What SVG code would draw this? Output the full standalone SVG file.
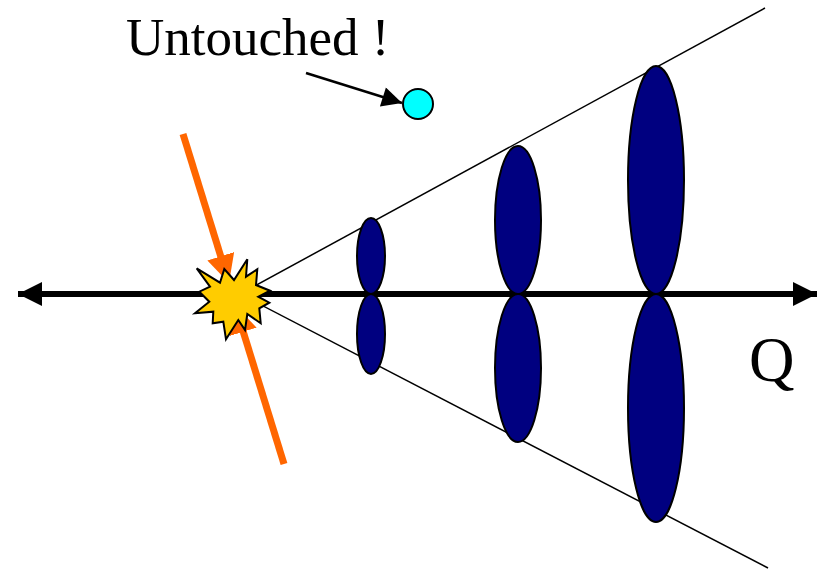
<svg xmlns="http://www.w3.org/2000/svg" width="823" height="571" viewBox="0 0 823 571">
<style>
.lobe{fill:#000080;stroke:#000;stroke-width:2}
.cone{stroke:#000;stroke-width:1.5;fill:none}
.txt{font-family:"Liberation Serif","Times New Roman",serif;fill:#000}
</style>
<defs>
<marker id="ah" viewBox="0 0 10 10" refX="10" refY="5" markerWidth="4" markerHeight="4" orient="auto" markerUnits="strokeWidth">
<path d="M0,0 L10,5 L0,10 z" fill="#000"/>
</marker>
<marker id="ahs" viewBox="0 0 10 10" refX="10" refY="5" markerWidth="10" markerHeight="8" orient="auto" markerUnits="strokeWidth">
<path d="M0,0 L10,5 L0,10 z" fill="#000"/>
</marker>
<marker id="aho" viewBox="0 0 10 10" refX="10" refY="5" markerWidth="4" markerHeight="4" orient="auto" markerUnits="strokeWidth">
<path d="M0,0 L10,5 L0,10 z" fill="#FF6600"/>
</marker>
</defs>
<g id="connectors">
<line class="cone" x1="240" y1="294" x2="765" y2="8"/>
<line class="cone" x1="240" y1="294" x2="768" y2="568"/>
<line x1="300" y1="294" x2="817" y2="294" stroke="#000" stroke-width="6" marker-end="url(#ah)"/>
<line x1="300" y1="294" x2="18" y2="294" stroke="#000" stroke-width="6" marker-end="url(#ah)"/>
<line x1="306" y1="73" x2="402" y2="103" stroke="#000" stroke-width="2.5" marker-end="url(#ahs)"/>
<line x1="183" y1="134" x2="229" y2="283" stroke="#FF6600" stroke-width="7" marker-end="url(#aho)"/>
<line x1="284" y1="464" x2="235" y2="305" stroke="#FF6600" stroke-width="7" marker-end="url(#aho)"/>
</g>
<g id="lobe-small">
<ellipse class="lobe" cx="371" cy="256" rx="14" ry="38"/>
<ellipse class="lobe" cx="371" cy="334" rx="14" ry="40"/>
</g>
<g id="lobe-medium">
<ellipse class="lobe" cx="518" cy="220" rx="23" ry="74"/>
<ellipse class="lobe" cx="518" cy="368" rx="23" ry="74"/>
</g>
<g id="lobe-large">
<ellipse class="lobe" cx="656" cy="180" rx="28" ry="114"/>
<ellipse class="lobe" cx="656" cy="408" rx="28" ry="114"/>
</g>
<g id="explosion">
<polygon points="196.7,268.3 220,282.7 224.3,269 234,280 247.3,259.3 246,276.7 257.3,269.3 256,285 270,290.7 258.3,296.7 269.3,302.7 259.3,308.3 260.7,323.3 247.3,314 245,330 238.3,320 226,339.3 223.3,321.7 212.7,323.3 213.3,311.7 195,313.3 209.3,301.7 199.3,291.7 210,286.7" fill="#FFCC00" stroke="#000" stroke-width="2" stroke-linejoin="miter"/>
</g>
<g id="untouched">
<circle cx="418" cy="104" r="15" fill="#00FFFF" stroke="#000" stroke-width="2"/>
<text class="txt" x="126" y="55" font-size="53">Untouched !</text>
</g>
<g id="q-label">
<text class="txt" x="749" y="381" font-size="63">Q</text>
</g>
</svg>
